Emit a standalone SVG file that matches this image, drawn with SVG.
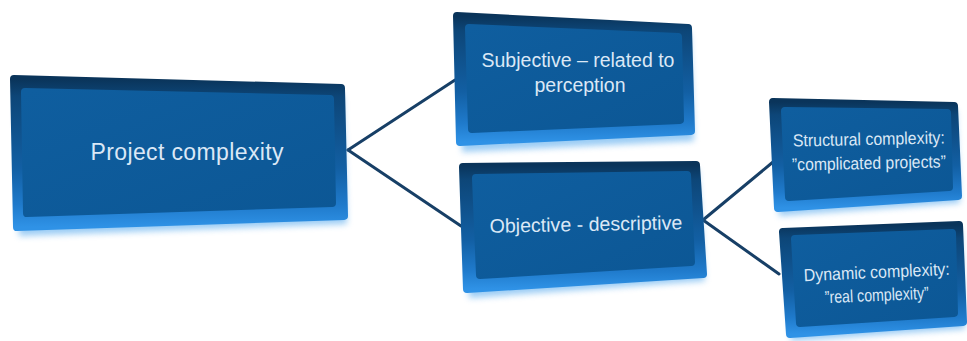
<svg xmlns="http://www.w3.org/2000/svg" width="967" height="341" viewBox="0 0 967 341">
<defs>
<linearGradient id="gOuter" x1="0" y1="0" x2="0" y2="1">
<stop offset="0" stop-color="#0a345a"/>
<stop offset="0.12" stop-color="#0d4678"/>
<stop offset="0.6" stop-color="#125fa3"/>
<stop offset="0.85" stop-color="#1f7acb"/>
<stop offset="1" stop-color="#2f92e6"/>
</linearGradient>
<linearGradient id="gFace" x1="0" y1="0" x2="1" y2="1">
<stop offset="0" stop-color="#0f5e9f"/>
<stop offset="1" stop-color="#0c5795"/>
</linearGradient>
<filter id="blur" x="-10%" y="-10%" width="120%" height="130%">
<feGaussianBlur stdDeviation="3"/>
</filter>
<style>
.glow{fill:#49a3ec;opacity:.55;filter:url(#blur)}
.outer{fill:url(#gOuter);stroke:url(#gOuter);stroke-width:8;stroke-linejoin:round}
.face{fill:url(#gFace);stroke:url(#gFace);stroke-width:8;stroke-linejoin:round}
.t{fill:#dbe8f6;font-family:"Liberation Sans",Arial,sans-serif;text-anchor:middle}
.conn{stroke:#173f66;stroke-width:3;fill:none;stroke-linecap:round}
</style>
</defs>
<rect width="967" height="341" fill="#ffffff"/>
<g id="connectors">
<line class="conn" x1="348" y1="150" x2="455" y2="80"/>
<line class="conn" x1="348" y1="150" x2="461" y2="226"/>
<line class="conn" x1="703" y1="220" x2="773" y2="162"/>
<line class="conn" x1="703" y1="220" x2="779" y2="274"/>
</g>
<g id="node-project">
<path class="glow" d="M16,86 L343,95 L347,224 L19,236 Z"/>
<path class="outer" d="M14,79 L341,88 L344,216 L17,227 Z"/>
<path class="face" d="M25,92 L330,99 L332,203 L27,213 Z"/>
<text class="t" x="187" y="160" font-size="23" textLength="193" lengthAdjust="spacing">Project complexity</text>
</g>
<g id="node-subjective">
<path class="glow" d="M459,22 L690,33 L694,141 L462,152 Z"/>
<path class="outer" d="M457,16 L688,28 L691,131 L460,142 Z"/>
<path class="face" d="M469,28 L678,37 L680,120 L472,129 Z"/>
<text class="t" x="578" y="67" font-size="19.5">Subjective – related to</text>
<text class="t" x="580" y="92" font-size="19.5">perception</text>
</g>
<g id="node-objective">
<path class="glow" d="M465,172 L698,169 L705,281 L469,298 Z"/>
<path class="outer" d="M463,167 L696,165 L703,274 L467,289 Z"/>
<path class="face" d="M476,178 L687,175 L691,262 L480,275 Z"/>
<text class="t" x="586" y="231" font-size="19.6" transform="rotate(-1 586 231)">Objective - descriptive</text>
</g>
<g id="node-structural">
<path class="glow" d="M775,107 L956,110 L960,203 L779,216 Z"/>
<path class="outer" d="M773,102 L954,106 L958,196 L778,208 Z"/>
<path class="face" d="M785,111 L947,113 L949,187 L789,197 Z"/>
<text class="t" x="869" y="145" font-size="17.5" textLength="152" lengthAdjust="spacingAndGlyphs" transform="rotate(-1.2 869 145)">Structural complexity:</text>
<text class="t" x="869" y="169" font-size="17.5" textLength="154" lengthAdjust="spacingAndGlyphs" transform="rotate(-1.2 869 169)">”complicated projects”</text>
</g>
<g id="node-dynamic">
<path class="glow" d="M785,237 L961,230 L965,329 L791,341 Z"/>
<path class="outer" d="M783,232 L959,225 L963,322 L790,334 Z"/>
<path class="face" d="M795,239 L952,233 L954,313 L800,323 Z"/>
<text class="t" x="877" y="278" font-size="17.5" textLength="146" lengthAdjust="spacingAndGlyphs" transform="rotate(-2.5 877 278)">Dynamic complexity:</text>
<text class="t" x="877" y="301" font-size="17.5" textLength="104" lengthAdjust="spacingAndGlyphs" transform="rotate(-2.5 877 301)">”real complexity”</text>
</g>
</svg>
